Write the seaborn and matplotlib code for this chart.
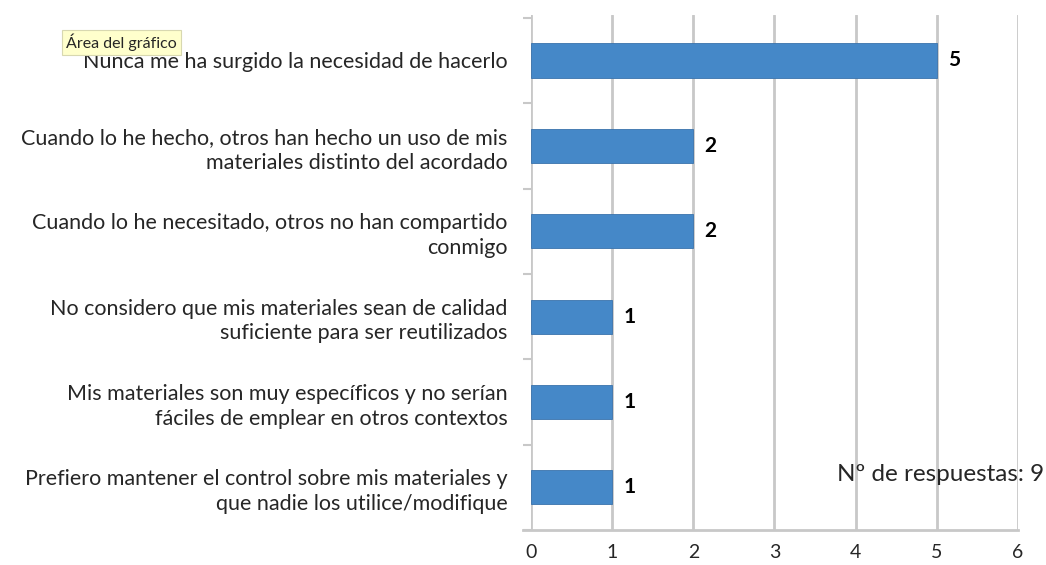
import matplotlib
matplotlib.use("Agg")
import matplotlib.pyplot as plt
import seaborn as sns
import pandas as pd

# Respuestas (de arriba a abajo)
categorias = [
    "Nunca me ha surgido la necesidad de hacerlo",
    "Cuando lo he hecho, otros han hecho un uso de mis\nmateriales distinto del acordado",
    "Cuando lo he necesitado, otros no han compartido\nconmigo",
    "No considero que mis materiales sean de calidad\nsuficiente para ser reutilizados",
    "Mis materiales son muy específicos y no serían\nfáciles de emplear en otros contextos",
    "Prefiero mantener el control sobre mis materiales y\nque nadie los utilice/modifique",
]
valores = [5, 2, 2, 1, 1, 1]
x_ticks = [0, 1, 2, 3, 4, 5, 6]
total_respuestas = 9

df = pd.DataFrame({"categoria": categorias, "valor": valores})

sns.set_style("white")
plt.rcParams["font.family"] = ["Lato", "DejaVu Sans"]

fig = plt.figure(figsize=(10.46, 5.65), dpi=100)
ax = fig.add_axes([0.5076, 0.062, 0.4656, 0.911])

sns.barplot(data=df, x="valor", y="categoria", color="#4588c8", width=0.4,
            saturation=1, edgecolor="#3a72ab", linewidth=0.6, ax=ax, zorder=3)

ax.set_xlim(0, 6)
ax.set_ylim(5.47, -0.53)
ax.set_xticks(x_ticks)
ax.set_xticklabels([str(t) for t in x_ticks], fontsize=14)
ax.grid(axis="x", color="#c8c8c8", linewidth=2, zorder=0)
ax.set_axisbelow(True)

for s in ["top", "right", "left"]:
    ax.spines[s].set_visible(False)
ax.spines["bottom"].set_color("#c8c8c8")
ax.spines["bottom"].set_linewidth(2)
ax.spines["bottom"].set_bounds(-0.1, 6)

ax.tick_params(axis="x", length=5, width=2, color="#c8c8c8", pad=5)
ax.set_yticks([i - 0.5 for i in range(len(categorias) + 1)], minor=True)
ax.tick_params(axis="y", which="minor", left=True, length=6, width=1.5,
               color="#c8c8c8")
ax.tick_params(axis="y", which="major", left=False, length=0, pad=17)
ax.set_yticklabels(categorias, fontsize=15.5, ha="right", linespacing=1.3)
ax.set_xlabel("")
ax.set_ylabel("")

for i, v in enumerate(valores):
    ax.text(v + 0.14, i, str(v), va="center", ha="left", fontsize=15,
            fontweight="bold", color="black")

fig.text(0.998, 0.16, f"Nº de respuestas: {total_respuestas}", ha="right",
         va="center", fontsize=17.5)

fig.text(0.063, 0.925, "Área del gráfico", fontsize=11.5, va="center", ha="left",
         bbox=dict(boxstyle="square,pad=0.25", facecolor="#ffffcc",
                   edgecolor="#d8d8b0", linewidth=0.8))

fig.savefig("out.png", dpi=100)
